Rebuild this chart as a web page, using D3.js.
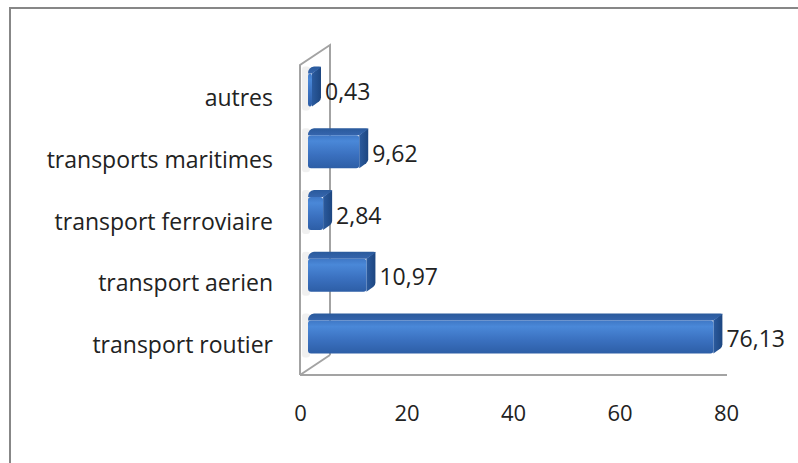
<!DOCTYPE html>
<html>
<head>
<meta charset="utf-8">
<script src="https://cdn.jsdelivr.net/npm/d3@7/dist/d3.min.js"></script>
<style>
html,body{margin:0;padding:0;background:#fff;}
svg{display:block;}
text{font-family:"Open Sans","Noto Sans",sans-serif;fill:#222;}
</style>
</head>
<body>
<svg id="chart" width="798" height="463"></svg>
<script>
// Data (top to bottom as displayed)
const categories = ["autres", "transports maritimes", "transport ferroviaire", "transport aerien", "transport routier"];
const values = [0.43, 9.62, 2.84, 10.97, 76.13];
const valueLabels = ["0,43", "9,62", "2,84", "10,97", "76,13"];
const tickValues = [0, 20, 40, 60, 80];

const svg = d3.select("#chart");

// outer border
svg.append("rect").attr("x", 10).attr("y", 8).attr("width", 820).attr("height", 480)
  .attr("fill", "#fff").attr("stroke", "#878787").attr("stroke-width", 2);

const x = d3.scaleLinear().domain([0, 80]).range([300, 726]);
const y = d3.scaleBand().domain(categories).range([69, 378]).padding(0);

const depthX = 30, depthY = 20;   // wall depth
const floorY = 375;
const wallTop = 65;

// defs: gradients
const defs = svg.append("defs");
const gFront = defs.append("linearGradient").attr("id", "gFront").attr("x1", 0).attr("y1", 0).attr("x2", 0).attr("y2", 1);
gFront.append("stop").attr("offset", "0%").attr("stop-color", "#3f78c6");
gFront.append("stop").attr("offset", "18%").attr("stop-color", "#4a88d8");
gFront.append("stop").attr("offset", "60%").attr("stop-color", "#3a70bf");
gFront.append("stop").attr("offset", "100%").attr("stop-color", "#2d5ea6");
const gTop = defs.append("linearGradient").attr("id", "gTop").attr("x1", 0).attr("y1", 0).attr("x2", 0).attr("y2", 1);
gTop.append("stop").attr("offset", "0%").attr("stop-color", "#2a5a9c");
gTop.append("stop").attr("offset", "100%").attr("stop-color", "#3565ad");
const gSide = defs.append("linearGradient").attr("id", "gSide").attr("x1", 0).attr("y1", 0).attr("x2", 1).attr("y2", 0);
gSide.append("stop").attr("offset", "0%").attr("stop-color", "#2b5b9f");
gSide.append("stop").attr("offset", "100%").attr("stop-color", "#1d4680");

// side wall & floor
const x0 = x(0);
const wall = svg.append("g").attr("fill", "none").attr("stroke", "#a3a3a3").attr("stroke-width", 2);
wall.append("path").attr("d",
  `M${x0},${floorY} L${x0},${wallTop} L${x0 + depthX},${wallTop - depthY} L${x0 + depthX},${floorY - depthY}`);
wall.append("path").attr("d", `M${x0},${floorY} L${x0 + depthX},${floorY - depthY}`);
wall.append("path").attr("d", `M${x0},${floorY} L${x(80) + 1},${floorY}`);

// bars
const dx = 8;          // bar offset from front plane
const bx = 9, by = 7;  // bar depth
const frontH = 33;
const bars = svg.append("g");
categories.forEach((c, i) => {
  const cy = y(c) + y.bandwidth() / 2 - 10; // front face center
  const xa = x(0) + dx, xb = Math.max(x(values[i]) + dx, xa + 4);
  const yt = cy - frontH / 2, yb = cy + frontH / 2;
  const g = bars.append("g");
  // soft shadow on wall
  g.append("rect").attr("x", xa - 6).attr("y", yt - by).attr("width", 8).attr("height", frontH + by + 4)
    .attr("fill", "#e6e6e6").attr("opacity", 0.6).attr("rx", 3);
  // right side
  g.append("path").attr("d",
    `M${xb},${yt} L${xb + bx},${yt - by} L${xb + bx},${yb - by - 2} Q${xb + bx},${yb - by} ${xb + bx - 2},${yb - by + 2} L${xb},${yb}Z`)
    .attr("fill", "url(#gSide)");
  // top face
  g.append("path").attr("d",
    `M${xa},${yt} Q${xa},${yt - by + 1} ${xa + bx - 3},${yt - by} L${xb + bx - 2},${yt - by} Q${xb + bx},${yt - by} ${xb + bx},${yt - by + 1} L${xb},${yt}Z`)
    .attr("fill", "url(#gTop)");
  // front face
  g.append("rect").attr("x", xa).attr("y", yt).attr("width", xb - xa).attr("height", frontH)
    .attr("rx", 3).attr("fill", "url(#gFront)");
  // value label
  g.append("text").attr("x", xb + bx + 4).attr("y", cy + 4)
    .attr("dominant-baseline", "middle").attr("font-size", 23).text(valueLabels[i]);
});

// category labels
svg.append("g").selectAll("text").data(categories).join("text")
  .attr("x", 273).attr("y", d => y(d) + y.bandwidth() / 2)
  .attr("text-anchor", "end").attr("dominant-baseline", "middle")
  .attr("font-size", 23).text(d => d);

// x axis tick labels
const axis = d3.axisBottom(x).tickValues(tickValues).tickSize(0).tickPadding(0).tickFormat(d3.format("d"));
const ax = svg.append("g").attr("transform", `translate(0,405)`).call(axis);
ax.select(".domain").remove();
ax.selectAll("text").attr("font-size", 22).attr("fill", "#222")
  .style("font-family", "'Open Sans','Noto Sans',sans-serif");
</script>
</body>
</html>
